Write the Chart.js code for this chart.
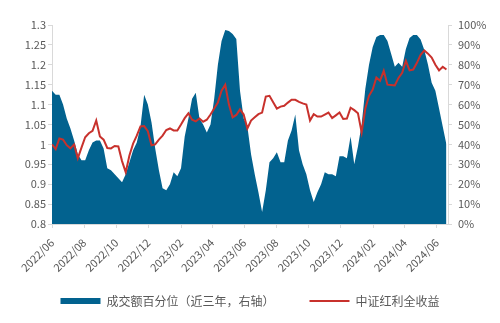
<!DOCTYPE html>
<html>
<head>
<meta charset="utf-8">
<script src="https://cdn.jsdelivr.net/npm/chart.js@4"></script>
<style>
  html, body { margin: 0; padding: 0; background: #fff; }
</style>
</head>
<body>
<canvas id="dividendChart" width="500" height="323"></canvas>
<script>
// weekly samples starting 2022-06-01
var startDate = '2022-06-01';
var weekStep = 7;

// 成交额百分位（近三年），%
var turnoverPct = [
  67, 65, 65, 60, 53, 48, 42, 35, 32, 32,
  37, 41, 42, 42, 38, 28, 27, 25, 23, 21,
  25, 31, 37, 41, 49, 65, 60, 51, 38, 27,
  18, 17, 20, 26, 24, 28, 44, 53, 63, 66,
  53, 50, 46, 50, 63, 80, 92, 97.5, 97, 95.5,
  93, 67, 53, 49, 35, 25, 16, 6, 17, 31,
  33, 36, 31, 31, 42, 47, 55, 37, 30, 25,
  17, 11, 16, 20, 26, 25, 25, 24, 34, 34,
  33, 44, 30, 39, 50, 68, 80, 89, 94, 95,
  95, 92, 85.5, 79, 81, 79, 88, 93.5, 95, 95,
  92.7, 87.4, 80, 71, 67, 58, 49, 40
];

// 中证红利全收益（归一化）
var dividendIndex = [
  1.000, 0.988, 1.015, 1.012, 0.998, 0.990, 1.000, 0.965, 0.992, 1.018,
  1.028, 1.034, 1.060, 1.020, 1.012, 0.991, 0.990, 0.996, 0.995, 0.958,
  0.930, 0.972, 1.002, 1.022, 1.045, 1.046, 1.033, 0.998, 1.000, 1.012,
  1.022, 1.036, 1.040, 1.035, 1.035, 1.050, 1.066, 1.078, 1.062, 1.058,
  1.065, 1.057, 1.062, 1.075, 1.090, 1.105, 1.135, 1.150, 1.100, 1.068,
  1.074, 1.088, 1.075, 1.040, 1.060, 1.068, 1.076, 1.080, 1.120, 1.122,
  1.106, 1.090, 1.095, 1.097, 1.105, 1.112, 1.112, 1.107, 1.103, 1.100,
  1.060, 1.076, 1.070, 1.070, 1.075, 1.080, 1.066, 1.073, 1.080, 1.064,
  1.065, 1.092, 1.086, 1.078, 1.030, 1.090, 1.122, 1.138, 1.168, 1.160,
  1.185, 1.150, 1.149, 1.148, 1.167, 1.180, 1.210, 1.186, 1.188, 1.205,
  1.225, 1.236, 1.228, 1.218, 1.200, 1.186, 1.195, 1.188
];

var tickLabels = ['2022/06', '2022/08', '2022/10', '2022/12', '2023/02', '2023/04',
  '2023/06', '2023/08', '2023/10', '2023/12', '2024/02', '2024/04', '2024/06'];

var seriesNames = ['成交额百分位（近三年，右轴）', '中证红利全收益'];

// day offsets from the start date
function dayOffset(str) {
  var p = str.split(/[-\/]/);
  var t0 = Date.UTC.apply(null, startDate.split('-').map(function(s, k) { return k === 1 ? +s - 1 : +s; }));
  var t = Date.UTC(+p[0], +p[1] - 1, p[2] ? +p[2] : 1);
  return Math.round((t - t0) / 86400000);
}
var tickDays = tickLabels.map(dayOffset);
var lastDay = 752;

function toPoints(values) {
  return values.map(function(v, i) { return { x: i * weekStep, y: v }; });
}

var FONT = '"Noto Sans CJK SC", "Liberation Sans", sans-serif';
Chart.defaults.font.family = FONT;
Chart.defaults.color = '#595959';

var axisGrey = '#d9d9d9';

// rotated date labels run past the x box into the legend band; let them draw there
var labelRoom = {
  id: 'labelRoom',
  afterLayout: function(chart) {
    chart.scales.x.bottom = chart.height;
  }
};

document.addEventListener('DOMContentLoaded', function() {
  var ctx = document.getElementById('dividendChart').getContext('2d');
  var dividendChart = new Chart(ctx, {
    type: 'line',
    data: {
      datasets: [{
        label: seriesNames[0],
        data: toPoints(turnoverPct),
        yAxisID: 'y1',
        backgroundColor: '#02628f',
        borderWidth: 0,
        fill: 'origin',
        pointRadius: 0,
        pointStyle: 'rect',
        tension: 0,
        order: 1
      }, {
        label: seriesNames[1],
        data: toPoints(dividendIndex),
        yAxisID: 'y',
        borderColor: '#c8312c',
        backgroundColor: '#c8312c',
        borderWidth: 2,
        fill: false,
        pointRadius: 0,
        pointStyle: 'line',
        tension: 0,
        order: 0
      }]
    },
    options: {
      responsive: false,
      animation: false,
      layout: {
        padding: { top: 25, left: 0, right: 0, bottom: 6 }
      },
      scales: {
        x: {
          type: 'linear',
          min: 0,
          max: lastDay,
          afterBuildTicks: function(axis) {
            axis.ticks = tickDays.map(function(d) { return { value: d }; });
          },
          afterFit: function(axis) { axis.height = 36; },
          ticks: {
            autoSkip: false,
            minRotation: 45,
            maxRotation: 45,
            padding: 8,
            font: { size: 11 },
            callback: function(value) {
              var k = tickDays.indexOf(value);
              return k >= 0 ? tickLabels[k] : '';
            }
          },
          grid: { drawOnChartArea: false, tickLength: 4, color: axisGrey },
          border: { color: axisGrey }
        },
        y: {
          position: 'left',
          min: 0.8,
          max: 1.3,
          afterFit: function(axis) { axis.width = 52; },
          ticks: {
            stepSize: 0.05,
            padding: 2,
            font: { size: 11 },
            callback: function(value) { return String(parseFloat(value.toFixed(2))); }
          },
          grid: { drawOnChartArea: false, tickLength: 4, color: axisGrey },
          border: { color: axisGrey }
        },
        y1: {
          position: 'right',
          min: 0,
          max: 100,
          afterFit: function(axis) { axis.width = 52; },
          ticks: {
            stepSize: 10,
            padding: 6,
            font: { size: 11 },
            callback: function(value) { return value + '%'; }
          },
          grid: { drawOnChartArea: false, tickLength: 4, color: axisGrey },
          border: { color: axisGrey }
        }
      },
      plugins: {
        legend: {
          position: 'bottom',
          labels: {
            usePointStyle: true,
            pointStyleWidth: 40,
            boxHeight: 6,
            padding: 35,
            color: '#595959',
            font: { size: 12 },
            sort: function(a, b) { return a.datasetIndex - b.datasetIndex; }
          }
        },
        tooltip: { enabled: false }
      }
    },
    plugins: [labelRoom]
  });
});
</script>
</body>
</html>
